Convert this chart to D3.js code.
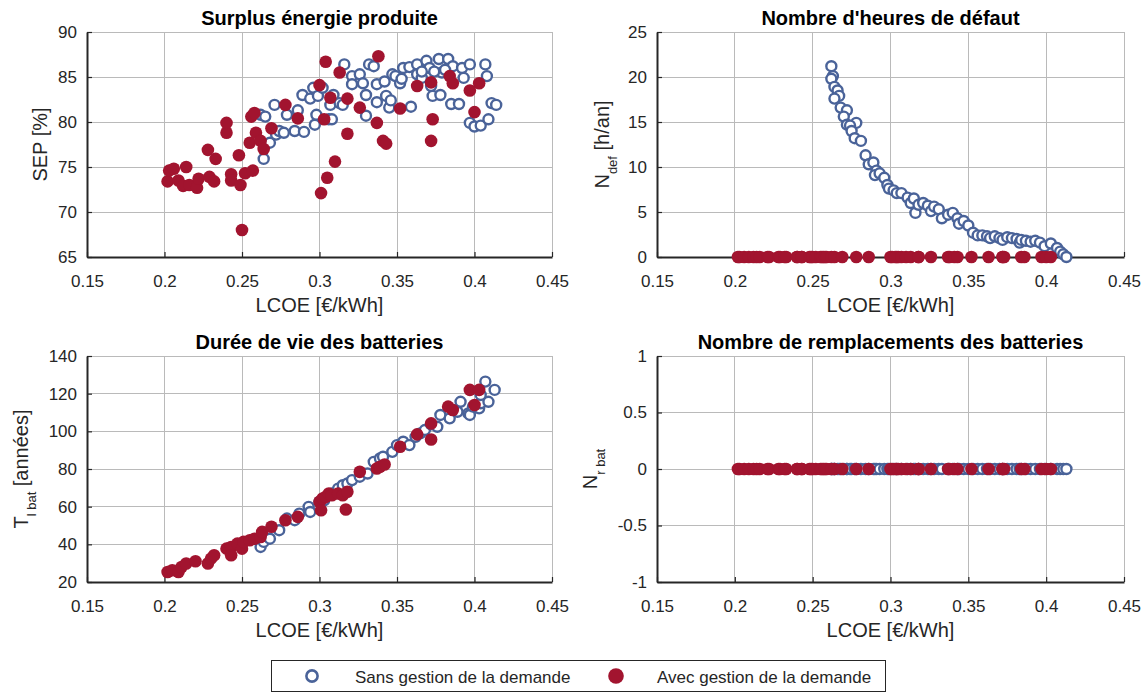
<!DOCTYPE html>
<html><head><meta charset="utf-8">
<script src="https://cdn.jsdelivr.net/npm/d3@7"></script>
<style>
body{margin:0;background:#fff;}
svg text{font-family:"Liberation Sans",Arial,sans-serif;fill:#262626;}
</style></head>
<body><svg id="c" width="1148" height="693"></svg>
<script>
// ---- data ----
const xTicks = [0.15,0.2,0.25,0.3,0.35,0.4,0.45];
const xTickLabels = ["0.15","0.2","0.25","0.3","0.35","0.4","0.45"];
const sepTicks = [65,70,75,80,85,90];
const ndefTicks = [0,5,10,15,20,25];
const tbatTicks = [20,40,60,80,100,120,140];
const nrTicks = [-1,-0.5,0,0.5,1];

// Surplus (SEP) - sans gestion
const sepSansLCOE = [0.264,0.262,0.265,0.268,0.271,0.272,0.274,0.277,0.279,0.284,0.286,0.289,0.290,0.294,0.296,0.297,0.298,0.299,0.302,0.306,0.308,0.307,0.309,0.313,0.316,0.315,0.321,0.321,0.326,0.328,0.330,0.330,0.332,0.335,0.337,0.337,0.342,0.343,0.345,0.346,0.347,0.349,0.352,0.353,0.354,0.358,0.359,0.363,0.363,0.366,0.369,0.371,0.372,0.373,0.377,0.378,0.379,0.383,0.385,0.386,0.390,0.392,0.393,0.397,0.397,0.400,0.404,0.407,0.408,0.409,0.411,0.414,0.381,0.374,0.366];
const sepSans = [75.9,80.8,80.6,77.7,81.9,78.6,79.0,78.8,80.8,79.0,81.3,83.0,78.9,82.6,83.8,79.7,80.8,82.9,83.8,80.3,80.3,81.9,83.0,82.1,86.4,81.9,85.1,84.2,85.3,84.3,83.0,80.7,86.4,86.2,82.2,84.2,84.5,82.9,81.6,82.4,85.3,85.1,84.3,84.8,86.0,86.1,81.7,86.4,85.3,84.9,86.8,86.0,84.0,82.9,87.0,83.0,85.5,87.0,82.0,86.2,82.0,86.0,84.9,86.4,79.9,79.5,79.6,86.4,85.1,80.3,82.1,81.9,85.8,85.6,85.6];

// avec gestion (shared LCOE for SEP, Ndef, Nr)
const avecLCOE = [0.202,0.203,0.206,0.209,0.212,0.214,0.216,0.221,0.222,0.228,0.229,0.232,0.233,0.240,0.240,0.243,0.243,0.248,0.249,0.250,0.252,0.257,0.255,0.256,0.258,0.259,0.262,0.264,0.269,0.278,0.286,0.300,0.301,0.304,0.305,0.303,0.307,0.310,0.313,0.318,0.318,0.326,0.337,0.338,0.341,0.343,0.352,0.363,0.372,0.373,0.372,0.384,0.386,0.397,0.400,0.403];
const sepAvec = [73.4,74.6,74.8,73.5,72.9,75.0,73.0,72.7,73.7,76.9,73.9,73.4,75.9,78.8,79.9,74.2,73.5,76.3,73.0,68.0,74.3,74.6,77.7,80.6,81.0,78.8,77.9,77.0,79.3,81.9,80.4,84.1,72.1,86.7,73.8,80.3,82.7,75.6,85.5,82.6,78.7,81.6,79.9,87.3,77.9,77.6,81.5,84.0,84.4,80.3,77.9,85.1,84.3,83.5,81.1,84.3];
const ndefAvec = avecLCOE.map(() => 0);
const nrAvec = avecLCOE.map(() => 0);

// Ndef - sans gestion
const ndefSansLCOE = [0.262,0.263,0.262,0.264,0.266,0.267,0.264,0.268,0.272,0.270,0.272,0.278,0.274,0.275,0.277,0.281,0.284,0.286,0.289,0.291,0.290,0.293,0.296,0.298,0.299,0.302,0.304,0.307,0.311,0.313,0.315,0.316,0.318,0.321,0.324,0.326,0.328,0.331,0.333,0.337,0.340,0.343,0.344,0.347,0.350,0.353,0.356,0.359,0.362,0.364,0.367,0.370,0.372,0.375,0.378,0.381,0.383,0.384,0.387,0.390,0.393,0.396,0.399,0.403,0.407,0.409,0.411,0.413];
const ndefSans = [21.2,20.1,19.8,18.9,18.5,17.9,17.6,16.6,16.3,15.6,14.7,14.9,14.6,14.0,13.2,12.9,11.3,10.3,10.5,9.6,9.1,9.3,8.8,8.0,7.6,7.4,7.1,7.1,6.6,6.0,6.5,4.9,5.8,6.0,5.7,5.1,5.6,5.3,4.3,4.7,4.9,4.3,3.7,4.0,3.5,2.7,2.4,2.4,2.3,2.1,2.3,2.1,1.9,2.2,2.1,2.0,1.6,1.9,1.8,1.7,1.8,1.6,1.2,1.5,1.0,0.6,0.3,0.0];
const nrSans = ndefSansLCOE.map(() => 0);

// Tbat - sans gestion
const tbatSansLCOE = [0.262,0.264,0.268,0.274,0.279,0.284,0.287,0.293,0.294,0.300,0.303,0.308,0.312,0.315,0.318,0.321,0.326,0.331,0.335,0.339,0.341,0.347,0.350,0.354,0.358,0.362,0.365,0.368,0.372,0.376,0.378,0.384,0.386,0.389,0.391,0.396,0.397,0.399,0.403,0.404,0.407,0.409,0.413,0.404];
const tbatSans = [38.6,41.3,43.0,47.5,53.7,52.8,56.3,59.9,57.2,62.6,63.4,67.0,69.6,71.4,72.3,74.1,75.9,77.6,83.8,85.6,86.5,89.1,92.7,94.5,92.7,97.1,98.9,100.7,103.7,102.4,108.7,106.9,111.3,110.4,115.7,109.5,108.7,113.1,112.2,114.9,126.4,115.7,122.0,119.3];
// Tbat - avec gestion
const tbatAvecLCOE = [0.202,0.205,0.209,0.211,0.214,0.220,0.228,0.230,0.232,0.240,0.243,0.243,0.247,0.250,0.251,0.255,0.258,0.262,0.263,0.269,0.278,0.286,0.300,0.301,0.302,0.304,0.306,0.308,0.312,0.315,0.317,0.318,0.326,0.337,0.339,0.342,0.352,0.363,0.372,0.372,0.383,0.386,0.397,0.403,0.400];
const tbatAvec = [25.3,26.2,25.3,28.0,29.8,31.0,29.8,32.4,34.2,37.7,38.6,34.2,40.4,37.7,41.3,42.2,43.0,43.9,46.6,49.3,52.8,54.6,62.6,58.1,64.3,65.2,67.0,66.1,67.0,66.1,58.5,67.9,78.5,80.3,81.2,82.4,91.8,98.4,104.2,95.7,113.1,111.3,122.0,122.0,114.0];

const colSans = "#4a6399", colAvec = "#a2142f";
const FT = 17, FL = 20, FTI = 20, FLG = 17;

// ---- drawing ----
const svg = d3.select("#c");
const cols = [{x0:87,x1:552},{x0:657,x1:1124}];
const rows = [{y0:32,y1:257},{y0:356,y1:582}];

function panel(c, r, yDom, yTks, title, labelX, ylabel, sans, avec){
  const P = cols[c], R = rows[r];
  const x = d3.scaleLinear().domain([0.15,0.45]).range([P.x0,P.x1]);
  const y = d3.scaleLinear().domain(yDom).range([R.y1,R.y0]);
  const g = svg.append("g");
  // grid
  g.selectAll(".gx").data(xTicks).join("line")
    .attr("x1",d=>x(d)).attr("x2",d=>x(d)).attr("y1",R.y0).attr("y2",R.y1)
    .attr("stroke","#bababa").attr("stroke-width",1).attr("shape-rendering","crispEdges");
  g.selectAll(".gy").data(yTks).join("line")
    .attr("y1",d=>y(d)).attr("y2",d=>y(d)).attr("x1",P.x0).attr("x2",P.x1)
    .attr("stroke","#bababa").attr("stroke-width",1).attr("shape-rendering","crispEdges");
  // axes
  const ax = d3.axisBottom(x).tickValues(xTicks).tickFormat((d,i)=>xTickLabels[i]).tickSizeInner(-5).tickSizeOuter(0).tickPadding(18);
  const ay = d3.axisLeft(y).tickValues(yTks).tickFormat(d=>d).tickSizeInner(-5).tickSizeOuter(0).tickPadding(10);
  const gx = g.append("g").attr("transform",`translate(0,${R.y1})`).call(ax);
  const gy = g.append("g").attr("transform",`translate(${P.x0},0)`).call(ay);
  [gx,gy].forEach(a=>{
    a.select(".domain").attr("stroke","#262626").attr("stroke-width",2);
    a.selectAll(".tick line").attr("stroke","#262626").attr("stroke-width",1.2);
    a.selectAll(".tick text").attr("font-size",FT).style("fill","#262626").attr("font-family","Liberation Sans, Arial, sans-serif");
  });
  // points
  g.append("g").selectAll("circle").data(sans.x.map((v,i)=>[v,sans.y[i]])).join("circle")
    .attr("cx",d=>x(d[0])).attr("cy",d=>y(d[1])).attr("r",5)
    .attr("fill","#fff").attr("stroke",colSans).attr("stroke-width",2.4);
  g.append("g").selectAll("circle").data(avec.x.map((v,i)=>[v,avec.y[i]])).join("circle")
    .attr("cx",d=>x(d[0])).attr("cy",d=>y(d[1])).attr("r",6.3)
    .attr("fill",colAvec);
  // title
  g.append("text").attr("x",(P.x0+P.x1)/2).attr("y",R.y0-7).attr("text-anchor","middle")
    .attr("font-size",FTI).attr("font-weight","bold").style("fill","#000").text(title);
  // x label
  g.append("text").attr("x",(P.x0+P.x1)/2).attr("y",R.y1+55).attr("text-anchor","middle")
    .attr("font-size",FL).text("LCOE [€/kWh]");
  // y label
  const yl = g.append("text").attr("transform",`translate(${labelX},${(R.y0+R.y1)/2}) rotate(-90)`)
    .attr("text-anchor","middle").attr("font-size",FL);
  ylabel(yl);
}
function sub(t, main, s, rest){
  t.append("tspan").text(main);
  t.append("tspan").attr("dy",8).attr("font-size",13).text(s);
  if(rest) t.append("tspan").attr("dy",-8).text(rest);
}

panel(0,0,[65,90],sepTicks,"Surplus énergie produite",47,
  t=>t.text("SEP [%]"),
  {x:sepSansLCOE,y:sepSans},{x:avecLCOE,y:sepAvec});
panel(1,0,[0,25],ndefTicks,"Nombre d'heures de défaut",609,
  t=>sub(t,"N","def"," [h/an]"),
  {x:ndefSansLCOE,y:ndefSans},{x:avecLCOE,y:ndefAvec});
panel(0,1,[20,140],tbatTicks,"Durée de vie des batteries",28,
  t=>sub(t,"T","l bat","  [années]"),
  {x:tbatSansLCOE,y:tbatSans},{x:tbatAvecLCOE,y:tbatAvec});
panel(1,1,[-1,1],nrTicks,"Nombre de remplacements des batteries",597,
  t=>sub(t,"N","r bat",null),
  {x:ndefSansLCOE,y:nrSans},{x:avecLCOE,y:nrAvec});

// legend
const lg = svg.append("g");
lg.append("rect").attr("x",271.5).attr("y",660.5).attr("width",614).attr("height",31)
  .attr("fill","#fff").attr("stroke","#262626").attr("stroke-width",1);
lg.append("circle").attr("cx",312).attr("cy",676).attr("r",5.6).attr("fill","#fff").attr("stroke",colSans).attr("stroke-width",2.6);
lg.append("text").attr("x",355).attr("y",683).attr("font-size",FLG).text("Sans gestion de la demande");
lg.append("circle").attr("cx",616).attr("cy",676).attr("r",7.8).attr("fill",colAvec);
lg.append("text").attr("x",657).attr("y",683).attr("font-size",FLG).text("Avec gestion de la demande");
</script></body></html>
